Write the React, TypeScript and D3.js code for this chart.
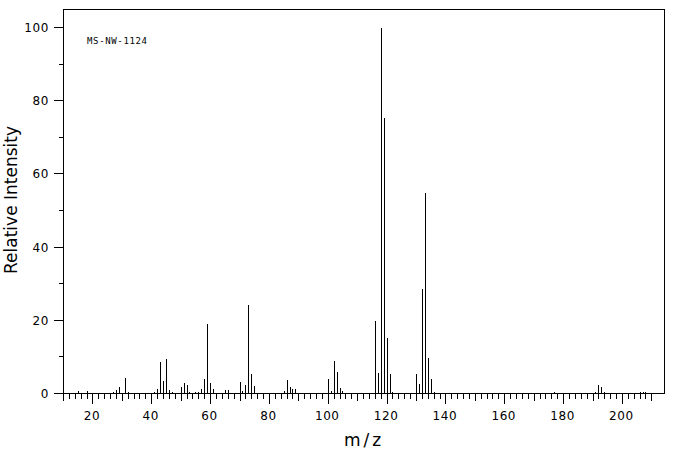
import React from "react";
import * as d3 from "d3";

const masses = [14, 15, 16, 17, 18, 27, 28, 29, 30, 31, 32, 33, 39, 40, 41, 42, 43, 44, 45, 46, 47, 50, 51, 52, 53, 54, 55, 56, 57, 58, 59, 60, 61, 62, 63, 65, 66, 67, 69, 70, 71, 72, 73, 74, 75, 76, 77, 81, 82, 84, 85, 86, 87, 88, 89, 90, 91, 99, 100, 101, 102, 103, 104, 105, 106, 113, 114, 115, 116, 117, 118, 119, 120, 121, 122, 129, 130, 131, 132, 133, 134, 135, 136, 137, 147, 148, 176, 177, 178, 191, 192, 193, 194, 195, 205, 206, 207, 208];
const intensities = [0.3, 0.8, 0.3, 0.3, 0.8, 0.5, 1.2, 1.9, 0.4, 4.4, 0.5, 0.3, 0.3, 0.3, 0.5, 1.4, 8.8, 3.6, 9.6, 1.1, 0.6, 1.9, 3.0, 2.4, 0.5, 0.3, 0.5, 0.5, 1.5, 4.0, 19.2, 2.9, 1.3, 0.3, 0.3, 1.0, 1.2, 0.3, 0.4, 3.3, 0.8, 2.5, 24.3, 5.5, 2.2, 0.3, 0.3, 0.3, 0.3, 0.3, 0.8, 3.9, 1.9, 1.4, 1.4, 0.3, 0.3, 0.3, 4.1, 0.8, 9.0, 6.0, 1.6, 0.8, 0.3, 0.3, 0.3, 0.3, 20.0, 5.7, 100, 75.3, 15.3, 5.5, 0.5, 0.3, 5.5, 2.7, 28.7, 54.9, 9.8, 4.1, 0.5, 0.3, 0.3, 0.3, 0.3, 0.5, 0.3, 0.5, 2.5, 2.0, 0.6, 0.3, 0.3, 0.5, 0.5, 0.5];

const xTickValues = d3.range(10, 211, 2);
const xLabelValues = [20, 40, 60, 80, 100, 120, 140, 160, 180, 200];
const yTickValues = d3.range(0, 101, 10);
const yLabelValues = [0, 20, 40, 60, 80, 100];
const sampleLabel = "MS-NW-1124";
const xTitle = "m/z";
const yTitle = "Relative Intensity";

export default function App() {
  const W = 676;
  const H = 455;
  const x = d3.scaleLinear().domain([10, 214.3]).range([63.5, 664.5]);
  const y = d3.scaleLinear().domain([0, 100]).range([393.5, 27.5]);
  const px = (m: number) => Math.round(x(m) - 0.5) + 0.5;
  const py = (v: number) => Math.round(y(v) - 0.5) + 0.5;
  const font = "'DejaVu Sans', sans-serif";
  const peaks = masses.map((m, i) => ({ m, v: intensities[i] }));

  return (
    <svg width={W} height={H} style={{ position: "absolute", left: 0, top: 0, background: "#fff" }}>
      <rect x={0} y={0} width={W} height={H} fill="#fff" />
      <g shapeRendering="crispEdges" stroke="#000" strokeWidth={1} fill="none">
        <path d={`M63.5,${py(0) + 7}V9.5H664.5V${py(0)}`} />
        <path d={`M63.5,${py(0)}H664.5`} />
        {xTickValues.map((t) => {
          const len = t % 20 === 0 ? 10 : t % 10 === 0 ? 7 : 5;
          return <line key={"xt" + t} x1={px(t)} x2={px(t)} y1={py(0)} y2={py(0) + len} />;
        })}
        {yTickValues.map((t) => {
          const len = t % 20 === 0 ? 10 : 5;
          return <line key={"yt" + t} x1={63.5 - len} x2={63.5} y1={py(t)} y2={py(t)} />;
        })}
        {peaks.map((p) => (
          <line key={"p" + p.m} x1={px(p.m)} x2={px(p.m)} y1={py(0)} y2={py(p.v)} />
        ))}
      </g>
      <g fontFamily={font} fontSize={12} fill="#000" letterSpacing={0.6}>
        {xLabelValues.map((t) => (
          <text key={"xl" + t} x={x(t) - 1} y={419.5} textAnchor="middle">
            {t}
          </text>
        ))}
        {yLabelValues.map((t) => (
          <text key={"yl" + t} x={49} y={y(t) + 4.5} textAnchor="end">
            {t}
          </text>
        ))}
      </g>
      <text x={87} y={44} fontFamily="'DejaVu Sans Mono', monospace" fontSize={9} textLength={60} lengthAdjust="spacing">
        {sampleLabel}
      </text>
      <text x={364} y={446} fontFamily={font} fontSize={17} textAnchor="middle" letterSpacing={3}>
        {xTitle}
      </text>
      <text
        transform={`translate(17,200) rotate(-90)`}
        fontFamily={font}
        fontSize={17}
        textAnchor="middle"
      >
        {yTitle}
      </text>
    </svg>
  );
}
